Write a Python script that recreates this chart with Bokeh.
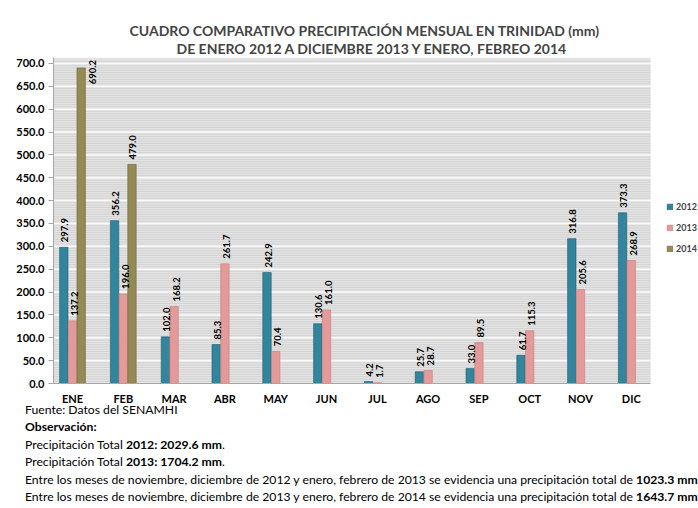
import math
from bokeh.plotting import figure
from bokeh.models import (ColumnDataSource, Range1d, Legend, LegendItem, Title, BoxAnnotation,
                          SingleIntervalTicker, FixedTicker, NumeralTickFormatter, Div)
from bokeh.layouts import column
from bokeh.core.properties import value
from bokeh.embed import file_html
from bokeh.resources import INLINE

months = ["ENE", "FEB", "MAR", "ABR", "MAY", "JUN", "JUL", "AGO", "SEP", "OCT", "NOV", "DIC"]
v2012 = [297.9, 356.2, 102.0, 85.3, 242.9, 130.6, 4.2, 25.7, 33.0, 61.7, 316.8, 373.3]
v2013 = [137.2, 196.0, 168.2, 261.7, 70.4, 161.0, 1.7, 28.7, 89.5, 115.3, 205.6, 268.9]
months2014 = ["ENE", "FEB"]
v2014 = [690.2, 479.0]
series_names = ["2012", "2013", "2014"]
colors = ["#31859C", "#E39A99", "#948A54"]

title1 = "CUADRO COMPARATIVO PRECIPITACIÓN MENSUAL EN TRINIDAD (mm)"
title2 = "DE ENERO 2012 A DICIEMBRE 2013 Y ENERO, FEBREO 2014"

FONT = "Lato"
off = 0.171   # dodge between series, in month units
w = 0.165
WALL_L, WALL_R, YMAX = -0.374, 11.38, 713

idx = {m: i for i, m in enumerate(months)}


def src(ms, vals, shift):
    return ColumnDataSource(dict(x=[idx[m] + shift for m in ms], v=vals,
                                 t=[f"{x:.1f}" for x in vals]))


src12 = src(months, v2012, -off)
src13 = src(months, v2013, 0.0)
src14 = src(months2014, v2014, off)
src14a = src(months2014[1:], v2014[1:], off)
src14b = src(months2014[:1], v2014[:1], off)

p = figure(x_range=Range1d(WALL_L, 12.323), y_range=Range1d(0, YMAX), width=698, height=407,
           output_backend="svg", toolbar_location=None,
           min_border_left=53, min_border_right=0, min_border_top=57, min_border_bottom=24)

p.background_fill_color = "white"
p.outline_line_color = None
p.border_fill_color = "white"

# chart "wall"
p.add_layout(BoxAnnotation(left=WALL_L, right=WALL_R, bottom=0, top=YMAX, fill_color="#e3e3e3",
                           fill_alpha=1, line_color=None, level="underlay"))
minor_y = [i * 5 for i in range(1, 142) if i % 10]
major_y = [i * 50 for i in range(1, 15)]
p.segment(x0=[WALL_L] * len(minor_y), x1=[WALL_R] * len(minor_y), y0=minor_y, y1=minor_y,
          line_color="#cdcdcd", line_alpha=0.7, line_width=1)
p.segment(x0=[WALL_L] * len(major_y), x1=[WALL_R] * len(major_y), y0=major_y, y1=major_y,
          line_color="#fafafa", line_width=1.5)

# titles (first added is closest to plot)
p.add_layout(Title(text=title2, align="left", offset=123, text_font=FONT,
                   text_font_size="14px", text_font_style="bold", standoff=1), "above")
p.add_layout(Title(text=title1, align="left", offset=76, text_font=FONT,
                   text_font_size="14px", text_font_style="bold", standoff=-3), "above")

r12 = p.vbar(x="x", top="v", width=w, source=src12,
             fill_color=colors[0], line_color="#215968", line_width=0.6)
r13 = p.vbar(x="x", top="v", width=w, source=src13,
             fill_color=colors[1], line_color="#c97977", line_width=0.6)
r14 = p.vbar(x="x", top="v", width=w, source=src14,
             fill_color=colors[2], line_color="#6b6338", line_width=0.6)

lab_kw = dict(text="t", angle=math.pi / 2, text_font=value(FONT), text_font_size="9.5px",
              text_font_style="bold", text_color="black", text_baseline="middle")
p.text(x="x", y="v", source=src12, text_align="left", y_offset=-5, x_offset=1, **lab_kw)
p.text(x="x", y="v", source=src13, text_align="left", y_offset=-5, x_offset=2, **lab_kw)
p.text(x="x", y="v", source=src14a, text_align="left", y_offset=-5, x_offset=1, **lab_kw)
p.text(x="x", y="v", source=src14b, text_align="right", y_offset=-8, x_offset=11, **lab_kw)

# axes
p.yaxis.ticker = SingleIntervalTicker(interval=50)
p.yaxis.formatter = NumeralTickFormatter(format="0.0")
p.xaxis.ticker = FixedTicker(ticks=list(range(len(months))))
p.xaxis.major_label_overrides = {i: m for i, m in enumerate(months)}
p.xaxis.bounds = (WALL_L, WALL_R)
for ax in (p.xaxis, p.yaxis):
    ax.major_label_text_font = FONT
    ax.major_label_text_font_size = "11px"
    ax.major_label_text_font_style = "bold"
    ax.major_label_text_color = "black"
    ax.axis_line_color = "#a6a6a6"
    ax.major_tick_line_color = "#a6a6a6"
    ax.minor_tick_line_color = None
p.yaxis.major_tick_out = 5
p.yaxis.major_tick_in = 0
p.yaxis.major_label_standoff = 4
p.xaxis.major_tick_line_color = None
p.xaxis.major_tick_out = 0
p.xaxis.major_tick_in = 0
p.xaxis.major_label_standoff = 8

p.xgrid.grid_line_color = None
p.ygrid.grid_line_color = None

legend = Legend(items=[LegendItem(label=series_names[0], renderers=[r12]),
                       LegendItem(label=series_names[1], renderers=[r13]),
                       LegendItem(label=series_names[2], renderers=[r14])],
                location=(613, 128), padding=0, margin=0, spacing=7,
                glyph_width=7, glyph_height=7, label_height=14, label_standoff=3,
                background_fill_alpha=0, border_line_color=None,
                label_text_font=FONT, label_text_font_size="9px", label_text_font_style="bold")
p.add_layout(legend, "center")

notes = (
    '<div style="font-family:Lato, sans-serif; font-size:12.2px; margin-top:-11px; '
    'line-height:17.4px; color:#000; white-space:nowrap; margin-left:20px;">'
    'Fuente: Datos del SENAMHI<br>'
    '<b>Observación:</b><br>'
    'Precipitación Total <b>2012: 2029.6 mm</b>.<br>'
    'Precipitación Total <b>2013: 1704.2 mm</b>.<br>'
    'Entre los meses de noviembre, diciembre de 2012 y enero, febrero de 2013 se evidencia una '
    'precipitación total de <b>1023.3 mm</b><br>'
    'Entre los meses de noviembre, diciembre de 2013 y enero, febrero de 2014 se evidencia una '
    'precipitación total de <b>1643.7 mm</b>'
    '</div>'
)
div = Div(text=notes, width=698, height=101)

layout = column(p, div, spacing=0)
open("out.html", "w").write(file_html(layout, INLINE))
